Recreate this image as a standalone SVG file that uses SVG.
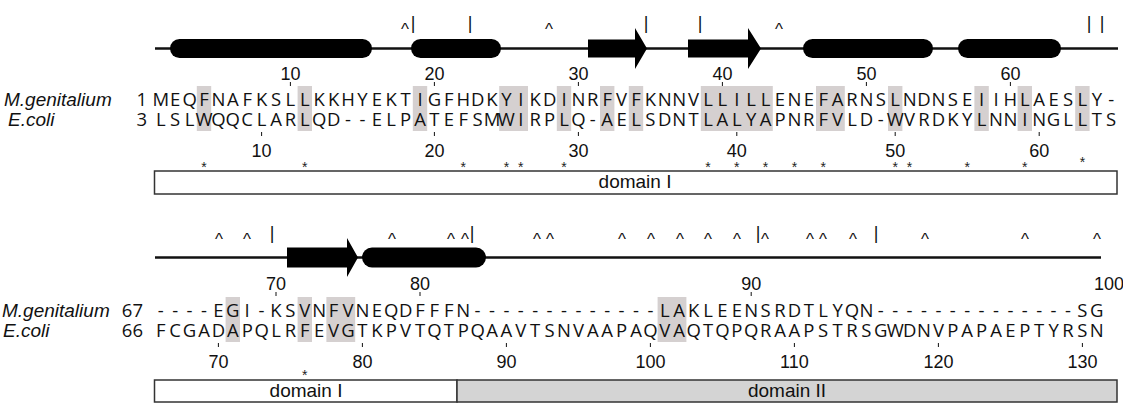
<svg xmlns="http://www.w3.org/2000/svg" width="1123" height="404" viewBox="0 0 1123 404">
<defs>
<style>
.seq{font-family:"Open Sans","Noto Sans",sans-serif;font-size:18.5px;fill:#111;text-anchor:middle}
.num{font-family:"Liberation Sans",Arial,sans-serif;font-size:18px;fill:#111;text-anchor:middle}
.rn{font-family:"Open Sans","Noto Sans",sans-serif;font-size:18.5px;fill:#111;text-anchor:end}
.sp{font-family:"Liberation Sans",Arial,sans-serif;font-size:19px;font-style:italic;fill:#111}
.dom{font-family:"Liberation Sans",Arial,sans-serif;font-size:19px;fill:#111;text-anchor:middle}
.mk{font-family:"Liberation Sans",Arial,sans-serif;font-size:17px;fill:#111;text-anchor:middle}
.bar{font-family:"Liberation Sans",Arial,sans-serif;font-size:18px;fill:#111;text-anchor:middle}
.star{font-family:"Liberation Sans",Arial,sans-serif;font-size:14px;fill:#222;text-anchor:middle}
.sh{fill:#d5d0d0}
.tick{stroke:#111;stroke-width:1}
.bb{stroke:#111;stroke-width:2.5;fill:none}
.ss{fill:#000}
.box{stroke:#333;stroke-width:1.5}
</style>
</defs>

<g id="block1-structure">
<line class="bb" x1="155" y1="48.5" x2="1118" y2="48.5"/>
<rect class="ss" x="170" y="39" width="202" height="19" rx="9.5"/>
<rect class="ss" x="411" y="39" width="90" height="19" rx="9.5"/>
<path class="ss" d="M588,39.5 H635 V28 L647,48.5 L635,69 V57.5 H588 Z"/>
<path class="ss" d="M688,39.5 H748 V28 L761,48.5 L748,69 V57.5 H688 Z"/>
<rect class="ss" x="803" y="39" width="130" height="19" rx="9.5"/>
<rect class="ss" x="958" y="39" width="103" height="19" rx="9.5"/>
</g>

<g id="block1-marks">
<text class="mk" x="405" y="35">^</text>
<text class="mk" x="549" y="35">^</text>
<text class="mk" x="779" y="35">^</text>
<text class="bar" x="413" y="28.5">|</text>
<text class="bar" x="470" y="28.5">|</text>
<text class="bar" x="646" y="28.5">|</text>
<text class="bar" x="700" y="28.5">|</text>
<text class="bar" x="1089" y="28.5">|</text>
<text class="bar" x="1102" y="28.5">|</text>
</g>

<g id="block1-shading">
<rect class="sh" x="196.8" y="86" width="14.4" height="45"/>
<rect class="sh" x="297.6" y="86" width="14.4" height="45"/>
<rect class="sh" x="412.8" y="86" width="14.4" height="45"/>
<rect class="sh" x="499.2" y="86" width="28.8" height="45"/>
<rect class="sh" x="556.8" y="86" width="14.4" height="45"/>
<rect class="sh" x="600" y="86" width="14.4" height="45"/>
<rect class="sh" x="628.8" y="86" width="14.4" height="45"/>
<rect class="sh" x="700.8" y="86" width="72" height="45"/>
<rect class="sh" x="816" y="86" width="28.8" height="45"/>
<rect class="sh" x="888" y="86" width="14.4" height="45"/>
<rect class="sh" x="974.4" y="86" width="14.4" height="45"/>
<rect class="sh" x="1017.6" y="86" width="14.4" height="45"/>
<rect class="sh" x="1075.2" y="86" width="14.4" height="45"/>
</g>

<g id="block1-numbers">
<text class="num" x="290.4" y="80">10</text>
<text class="num" x="434.4" y="80">20</text>
<text class="num" x="578.4" y="80">30</text>
<text class="num" x="722.4" y="80">40</text>
<text class="num" x="866.4" y="80">50</text>
<text class="num" x="1010.4" y="80">60</text>
<path class="tick" d="M290.4,82V86M434.4,82V86M578.4,82V86M722.4,82V86M866.4,82V86M1010.4,82V86"/>
<path class="tick" d="M261.6,132V136M434.4,132V136M578.4,132V136M736.8,132V136M895.2,132V136M1039.2,132V136"/>
<text class="num" x="261.6" y="157">10</text>
<text class="num" x="434.4" y="157">20</text>
<text class="num" x="578.4" y="157">30</text>
<text class="num" x="736.8" y="157">40</text>
<text class="num" x="895.2" y="157">50</text>
<text class="num" x="1039.2" y="157">60</text>
</g>

<g id="block1-mgen">
<text class="sp" x="4" y="106">M.genitalium</text>
<text class="rn" x="147" y="106">1</text>
<text class="seq" y="106" x="160.8 175.2 189.6 204 218.4 232.8 247.2 261.6 276 290.4 304.8 319.2 333.6 348 362.4 376.8 391.2 405.6 420 434.4 448.8 463.2 477.6 492 506.4 520.8 535.2 549.6 564 578.4 592.8 607.2 621.6 636 650.4 664.8 679.2 693.6 708 722.4 736.8 751.2 765.6 780 794.4 808.8 823.2 837.6 852 866.4 880.8 895.2 909.6 924 938.4 952.8 967.2 981.6 996 1010.4 1024.8 1039.2 1053.6 1068 1082.4 1096.8 1111.2">MEQFNAFKSLLKKHYEKTIGFHDKYIKDINRFVFKNNVLLILLENEFARNSLNDNSEIIHLAESLY-</text>
</g>

<g id="block1-ecoli">
<text class="sp" x="8" y="126">E.coli</text>
<text class="rn" x="147" y="126">3</text>
<text class="seq" y="126" x="160.8 175.2 189.6 204 218.4 232.8 247.2 261.6 276 290.4 304.8 319.2 333.6 348 362.4 376.8 391.2 405.6 420 434.4 448.8 463.2 477.6 492 506.4 520.8 535.2 549.6 564 578.4 592.8 607.2 621.6 636 650.4 664.8 679.2 693.6 708 722.4 736.8 751.2 765.6 780 794.4 808.8 823.2 837.6 852 866.4 880.8 895.2 909.6 924 938.4 952.8 967.2 981.6 996 1010.4 1024.8 1039.2 1053.6 1068 1082.4 1096.8 1111.2">LSLWQQCLARLQD--ELPATEFSMWIRPLQ-AELSDNTLALYAPNRFVLD-WVRDKYLNNINGLLTS</text>
</g>

<g id="block1-domains">
<text class="star" y="172" x="204 304.8 463.2 506.4 520.8 564 708 736.8 765.6 794.4 823.2 895.2 909.6 967.2 1024.8">***************</text>
<text class="star" x="1082.4" y="167">*</text>
<rect class="box" x="154.5" y="171" width="962.5" height="23" fill="#fff"/>
<text class="dom" x="635" y="188">domain I</text>
</g>

<g id="block2-structure">
<line class="bb" x1="155" y1="257.5" x2="1101" y2="257.5"/>
<path class="ss" d="M287,247.5 H347 V238 L358,257.5 L347,277 V267.5 H287 Z"/>
<rect class="ss" x="362" y="247.5" width="124" height="20" rx="10"/>
</g>

<g id="block2-marks">
<text class="mk" x="219" y="245">^</text>
<text class="mk" x="247" y="245">^</text>
<text class="mk" x="392" y="245">^</text>
<text class="mk" x="451" y="245">^</text>
<text class="mk" x="465" y="245">^</text>
<text class="mk" x="537" y="245">^</text>
<text class="mk" x="550" y="245">^</text>
<text class="mk" x="622" y="245">^</text>
<text class="mk" x="651" y="245">^</text>
<text class="mk" x="680" y="245">^</text>
<text class="mk" x="708" y="245">^</text>
<text class="mk" x="737" y="245">^</text>
<text class="mk" x="765" y="245">^</text>
<text class="mk" x="810" y="245">^</text>
<text class="mk" x="823" y="245">^</text>
<text class="mk" x="853" y="245">^</text>
<text class="mk" x="925" y="245">^</text>
<text class="mk" x="1025" y="245">^</text>
<text class="mk" x="1097" y="245">^</text>
<text class="bar" x="272" y="238.5">|</text>
<text class="bar" x="472" y="238.5">|</text>
<text class="bar" x="758" y="238.5">|</text>
<text class="bar" x="876" y="238.5">|</text>
</g>

<g id="block2-shading">
<rect class="sh" x="225.6" y="297" width="14.4" height="45"/>
<rect class="sh" x="297.6" y="297" width="14.4" height="45"/>
<rect class="sh" x="326.4" y="297" width="28.8" height="45"/>
<rect class="sh" x="657.6" y="297" width="28.8" height="45"/>
</g>

<g id="block2-numbers">
<text class="num" x="276" y="290">70</text>
<text class="num" x="420" y="290">80</text>
<text class="num" x="751.2" y="290">90</text>
<text class="num" x="1109" y="290">100</text>
<path class="tick" d="M276,292V296M420,292V296M751.2,292V296"/>
<path class="tick" d="M218.4,343V347M362.4,343V347M506.4,343V347M650.4,343V347M794.4,343V347M938.4,343V347M1082.4,343V347"/>
<text class="num" x="218.4" y="368">70</text>
<text class="num" x="362.4" y="368">80</text>
<text class="num" x="506.4" y="368">90</text>
<text class="num" x="650.4" y="368">100</text>
<text class="num" x="794.4" y="368">110</text>
<text class="num" x="938.4" y="368">120</text>
<text class="num" x="1082.4" y="368">130</text>
</g>

<g id="block2-mgen">
<text class="sp" x="2" y="317">M.genitalium</text>
<text class="rn" x="143" y="317">67</text>
<text class="seq" y="317" x="160.8 175.2 189.6 204 218.4 232.8 247.2 261.6 276 290.4 304.8 319.2 333.6 348 362.4 376.8 391.2 405.6 420 434.4 448.8 463.2 477.6 492 506.4 520.8 535.2 549.6 564 578.4 592.8 607.2 621.6 636 650.4 664.8 679.2 693.6 708 722.4 736.8 751.2 765.6 780 794.4 808.8 823.2 837.6 852 866.4 880.8 895.2 909.6 924 938.4 952.8 967.2 981.6 996 1010.4 1024.8 1039.2 1053.6 1068 1082.4 1096.8">----EGI-KSVNFVNEQDFFFN-------------LAKLEENSRDTLYQN--------------SG</text>
</g>

<g id="block2-ecoli">
<text class="sp" x="3" y="337">E.coli</text>
<text class="rn" x="143" y="337">66</text>
<text class="seq" y="337" x="160.8 175.2 189.6 204 218.4 232.8 247.2 261.6 276 290.4 304.8 319.2 333.6 348 362.4 376.8 391.2 405.6 420 434.4 448.8 463.2 477.6 492 506.4 520.8 535.2 549.6 564 578.4 592.8 607.2 621.6 636 650.4 664.8 679.2 693.6 708 722.4 736.8 751.2 765.6 780 794.4 808.8 823.2 837.6 852 866.4 880.8 895.2 909.6 924 938.4 952.8 967.2 981.6 996 1010.4 1024.8 1039.2 1053.6 1068 1082.4 1096.8">FCGADAPQLRFEVGTKPVTQTPQAAVTSNVAAPAQVAQTQPQRAAPSTRSGWDNVPAPAEPTYRSN</text>
</g>

<g id="block2-domains">
<text class="star" x="304.8" y="380">*</text>
<rect class="box" x="154.5" y="380" width="302.5" height="22" fill="#fff"/>
<rect class="box" x="457" y="380" width="660" height="22" fill="#d4d4d4"/>
<text class="dom" x="306" y="397">domain I</text>
<text class="dom" x="787" y="397">domain II</text>
</g>
</svg>
